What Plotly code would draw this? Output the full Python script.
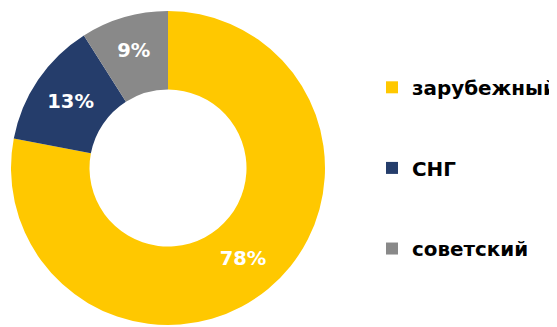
import plotly.graph_objects as go

categories = ["зарубежный", "СНГ", "советский"]
shares = [78, 13, 9]
colors = ["#FFC800", "#253D6B", "#898989"]

W, H = 557, 327
OFF = 8  # page body margin compensation
cx, cy, r = 168 - OFF, 168 - OFF, 157

legend_labels = [f"<br><b>{c}</b><br>" for c in categories]

fig = go.Figure(
    go.Pie(
        labels=legend_labels,
        values=shares,
        sort=False,
        direction="clockwise",
        rotation=0,
        hole=0.5,
        marker=dict(colors=colors, line=dict(width=0)),
        textinfo="percent",
        textposition="inside",
        insidetextorientation="horizontal",
        insidetextfont=dict(family="DejaVu Sans", size=19.5, color="white", weight="bold"),
        domain=dict(
            x=[(cx - r) / W, (cx + r) / W],
            y=[(H - cy - r) / H, (H - cy + r) / H],
        ),
        hoverinfo="skip",
    )
)

fig.update_layout(
    width=W,
    height=H,
    margin=dict(l=0, r=0, t=0, b=0),
    paper_bgcolor="white",
    plot_bgcolor="white",
    showlegend=True,
    legend=dict(
        x=(372 - OFF) / W,
        xanchor="left",
        y=(H - (168 - OFF)) / H,
        yanchor="middle",
        font=dict(family="DejaVu Sans", size=19.9, color="#000000"),
        bgcolor="rgba(0,0,0,0)",
        valign="middle",
    ),
)

fig.write_html("out.html")
